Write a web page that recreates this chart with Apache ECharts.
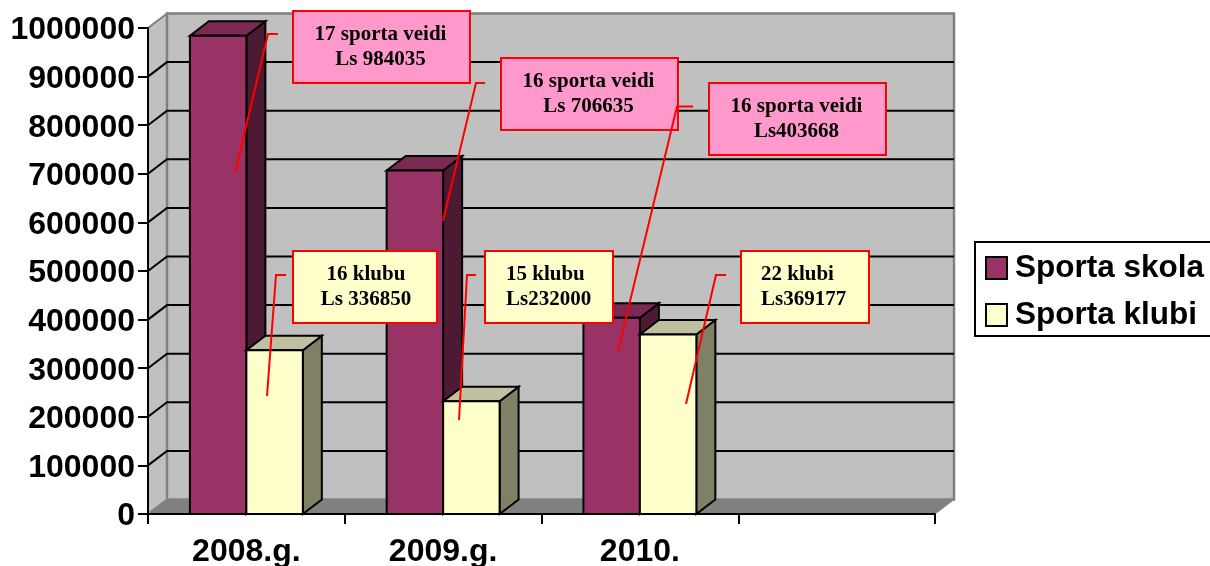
<!DOCTYPE html>
<html>
<head>
<meta charset="utf-8">
<style>
  html, body { margin: 0; padding: 0; background: #fff; }
  #chart { width: 1210px; height: 566px; }
</style>
</head>
<body>
<div id="chart"></div>
<script src="https://cdn.jsdelivr.net/npm/echarts@6/dist/echarts.min.js"></script>
<script>
var categories = ['2008.g.', '2009.g.', '2010.', '']
var sportaSkola = [984035, 706635, 403668, null]
var sportaKlubi = [336850, 232000, 369177, null]
var yTicks = [100000, 200000, 300000, 400000, 500000, 600000, 700000, 800000, 900000]
var calloutTexts = [
  '17 sporta veidi\nLs 984035',
  '16 sporta veidi\nLs 706635',
  '16 sporta veidi\nLs403668',
  '16 klubu\nLs 336850',
  '15 klubu\nLs232000',
  '22 klubi\nLs369177'
]

// box: x, y, w, h, fill; textX, align; leader points
var calloutLayout = [
  { box: [293, 11, 177, 72], fill: '#FF99CC', tx: 380.5, align: 'center', leader: [[278, 34], [268, 34], [235, 173]] },
  { box: [501, 58, 177, 72], fill: '#FF99CC', tx: 588.5, align: 'center', leader: [[485, 83], [476, 83], [443, 221]] },
  { box: [709, 83, 177, 72], fill: '#FF99CC', tx: 796.5, align: 'center', leader: [[693, 106.5], [677, 106.5], [618, 351]] },
  { box: [293, 251, 144, 72], fill: '#FFFFCC', tx: 366, align: 'center', leader: [[286, 275], [276, 275], [267, 396]] },
  { box: [485, 251, 128, 72], fill: '#FFFFCC', tx: 506, align: 'left', leader: [[476, 275], [467, 275], [459, 420]] },
  { box: [741, 251, 128, 72], fill: '#FFFFCC', tx: 761, align: 'left', leader: [[726, 275], [716, 275], [686, 404]] }
]

var DX = 19
var DY = -14.5
var BAR_RATIO = 0.287
var LINE = { stroke: '#000', lineWidth: 2 }

function calloutGraphics () {
  var els = []
  calloutLayout.forEach(function (c, i) {
    els.push({
      type: 'rect',
      z: 100,
      shape: { x: c.box[0], y: c.box[1], width: c.box[2], height: c.box[3] },
      style: { fill: c.fill, stroke: '#FF0000', lineWidth: 2 }
    })
    els.push({
      type: 'polyline',
      z: 101,
      shape: { points: c.leader },
      style: { stroke: '#FF0000', lineWidth: 2, fill: null }
    })
    els.push({
      type: 'text',
      z: 102,
      x: c.tx,
      y: c.box[1] + 11,
      style: {
        text: calloutTexts[i],
        fill: '#000',
        font: 'bold 21px "Liberation Serif"',
        lineHeight: 25,
        align: c.align
      }
    })
  })
  return els
}

// one side of a 3d bar: front, top and right faces
function barItem (side, front, topc, sidec) {
  return function (params, api) {
    var value = api.value(1)
    if (value == null || isNaN(value)) {
      return
    }
    var w = api.size([1, 0])[0] * BAR_RATIO
    var centre = api.coord([api.value(0), 0])
    var top = api.coord([api.value(0), value])
    var x0 = side === 0 ? centre[0] - w : centre[0]
    var x1 = x0 + w
    var y0 = centre[1]
    var y1 = top[1]
    return {
      type: 'group',
      children: [
        {
          type: 'polygon',
          shape: { points: [[x1, y1], [x1 + DX, y1 + DY], [x1 + DX, y0 + DY], [x1, y0]] },
          style: { fill: sidec, stroke: '#000', lineWidth: 2 }
        },
        {
          type: 'polygon',
          shape: { points: [[x0, y1], [x0 + DX, y1 + DY], [x1 + DX, y1 + DY], [x1, y1]] },
          style: { fill: topc, stroke: '#000', lineWidth: 2 }
        },
        {
          type: 'rect',
          shape: { x: x0, y: y1, width: w, height: y0 - y1 },
          style: { fill: front, stroke: '#000', lineWidth: 2 }
        }
      ]
    }
  }
}

function wallItem (params) {
  var g = params.coordSys
  var l = g.x
  var r = g.x + g.width
  var t = g.y
  var b = g.y + g.height
  return {
    type: 'group',
    children: [
      {
        type: 'polygon',
        shape: { points: [[l, t], [l + DX, t + DY], [l + DX, b + DY], [l, b]] },
        style: { fill: '#C0C0C0', stroke: '#808080', lineWidth: 2 }
      },
      {
        type: 'rect',
        shape: { x: l + DX, y: t + DY, width: g.width, height: g.height },
        style: { fill: '#C0C0C0', stroke: '#808080', lineWidth: 2.5 }
      },
      {
        type: 'polygon',
        shape: { points: [[l, b], [l + DX, b + DY], [r + DX, b + DY], [r, b]] },
        style: { fill: '#808080', stroke: '#808080', lineWidth: 1 }
      }
    ]
  }
}

function gridItem (params, api) {
  var g = params.coordSys
  var y = api.coord([0, api.value(0)])[1]
  return {
    type: 'polyline',
    shape: { points: [[g.x, y], [g.x + DX, y + DY], [g.x + g.width + DX, y + DY]] },
    style: Object.assign({ fill: null }, LINE)
  }
}

function pairs (values) {
  return values.map(function (v, i) { return [i, v] })
}

var chart = echarts.init(document.getElementById('chart'))
chart.setOption({
  animation: false,
  textStyle: { fontFamily: 'Liberation Sans' },
  legend: {
    left: 975,
    top: 242,
    orient: 'vertical',
    data: ['Sporta skola', 'Sporta klubi'],
    icon: 'rect',
    itemWidth: 21,
    itemHeight: 22,
    itemGap: 15,
    padding: [10, 40, 5, 10],
    borderColor: '#000',
    borderWidth: 2,
    backgroundColor: '#fff',
    textStyle: { color: '#000', fontSize: 31.5, fontWeight: 'bold', fontFamily: 'Liberation Sans', padding: [4, 0, 0, 3] }
  },
  grid: { left: 148, top: 28, width: 787, height: 486, outerBoundsMode: 'none' },
  xAxis: {
    type: 'category',
    data: categories,
    z: 5,
    axisLine: { lineStyle: { color: '#000', width: 2 } },
    axisTick: { show: true, alignWithLabel: false, length: 10, lineStyle: { color: '#000', width: 2 } },
    axisLabel: { color: '#000', fontSize: 32, fontWeight: 'bold', margin: 22 },
    splitLine: { show: false }
  },
  yAxis: {
    type: 'value',
    min: 0,
    max: 1000000,
    interval: 100000,
    z: 5,
    axisLine: { show: true, lineStyle: { color: '#000', width: 2 } },
    axisTick: { show: true, length: 10, lineStyle: { color: '#000', width: 2 } },
    axisLabel: {
      margin: 13,
      formatter: function (v) { return '{v|' + v + '}' },
      rich: { v: { color: '#000', fontSize: 32, fontWeight: 'bold', fontFamily: 'Liberation Sans', padding: [5, 0, 0, 0] } }
    },
    splitLine: { show: false }
  },
  series: [
    { type: 'custom', name: 'walls', silent: true, clip: false, renderItem: wallItem, data: [[0, 0]], encode: { x: 0, y: 1 }, z: 1 },
    { type: 'custom', name: 'lines', silent: true, clip: false, renderItem: gridItem, data: yTicks.map(function (v) { return [v] }), encode: { y: 0 }, z: 1 },
    {
      type: 'custom',
      name: 'Sporta skola',
      clip: false,
      renderItem: barItem(0, '#993366', '#7A2952', '#4D1A33'),
      itemStyle: { color: '#993366', borderColor: '#000', borderWidth: 2 },
      data: pairs(sportaSkola),
      encode: { x: 0, y: 1 },
      z: 2
    },
    {
      type: 'custom',
      name: 'Sporta klubi',
      clip: false,
      renderItem: barItem(1, '#FFFFCC', '#C0C0A0', '#808066'),
      itemStyle: { color: '#FFFFCC', borderColor: '#000', borderWidth: 2 },
      data: pairs(sportaKlubi),
      encode: { x: 0, y: 1 },
      z: 2
    }
  ],
  graphic: { elements: calloutGraphics() }
})
</script>
</body>
</html>
